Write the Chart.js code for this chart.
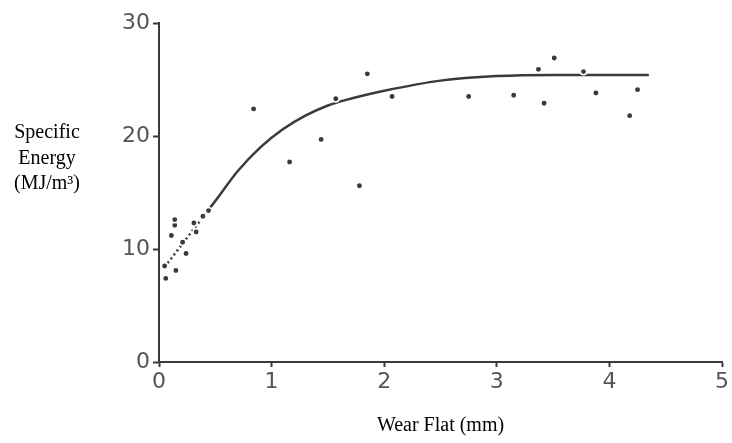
<!DOCTYPE html>
<html>
<head>
<meta charset="utf-8">
<script src="https://cdn.jsdelivr.net/npm/chart.js@4"></script>
<style>
    html, body { margin: 0; padding: 0; background: #fff; }
    #wrap { position: relative; width: 732px; height: 443px; }
</style>
</head>
<body>
<div id="wrap"><canvas id="energyChart" width="732" height="443"></canvas></div>
<script>
// Measured points: wear flat (mm) vs specific energy (MJ/m3)
const wearFlat = [0.06, 0.05, 0.15, 0.11, 0.14, 0.14, 0.24, 0.21, 0.31, 0.33, 0.39, 0.44,
    0.84, 1.16, 1.44, 1.57, 1.78, 1.85, 2.07, 2.75, 3.15, 3.37, 3.42, 3.51, 3.77, 3.84, 3.88, 4.18, 4.25];
const energy = [7.4, 8.5, 8.1, 11.2, 12.1, 12.6, 9.6, 10.6, 12.3, 11.5, 12.9, 13.4,
    22.4, 17.7, 19.7, 23.3, 15.6, 25.5, 23.5, 23.5, 23.6, 25.9, 22.9, 26.9, 25.7, 30.9, 23.8, 21.8, 24.1];

// Hand-fitted trend curve
const curveX = [0.05, 0.15, 0.25, 0.35, 0.45, 0.5, 0.7, 0.9, 1.1, 1.3, 1.5, 1.7, 2.0, 2.5, 3.0, 3.5, 4.0, 4.35];
const curveY = [8.4, 9.7, 11.0, 12.3, 13.6, 14.25, 16.9, 19.0, 20.6, 21.8, 22.7, 23.3, 24.0, 24.9, 25.3, 25.4, 25.4, 25.4];

const xTicks = [0, 1, 2, 3, 4, 5];
const yTicks = [0, 10, 20, 30];
const yTitle = ['Specific', 'Energy', '(MJ/m\u00B3)'];
const xTitle = 'Wear Flat (mm)';

const ink = '#3a3a3a';

// y title sits horizontally left of the axis
const sideTitle = {
    id: 'sideTitle',
    afterDraw(chart) {
        const ctx = chart.ctx;
        ctx.save();
        ctx.fillStyle = '#000';
        ctx.font = '20px "Liberation Serif", "Times New Roman", serif';
        ctx.textAlign = 'center';
        ctx.textBaseline = 'alphabetic';
        yTitle.forEach((line, i) => ctx.fillText(line, 47, 138 + i * 25.5));
        ctx.restore();
    }
};

const ctx = document.getElementById('energyChart').getContext('2d');
const energyChart = new Chart(ctx, {
    type: 'scatter',
    data: {
        datasets: [{
            label: 'Measured',
            data: wearFlat.map((x, i) => ({ x: x, y: energy[i] })),
            backgroundColor: ink,
            borderColor: '#fff',
            borderWidth: 1.5,
            pointRadius: 3.2,
            clip: false
        }, {
            label: 'Trend',
            type: 'line',
            data: curveX.map((x, i) => ({ x: x, y: curveY[i] })),
            borderColor: ink,
            borderWidth: 2.5,
            pointRadius: 0,
            cubicInterpolationMode: 'monotone',
            fill: false,
            segment: {
                borderDash: c => c.p0.parsed.x < 0.45 ? [2, 3] : undefined
            }
        }]
    },
    options: {
        responsive: false,
        animation: false,
        layout: { padding: { left: 0, right: 10, top: 23, bottom: 0 } },
        plugins: {
            legend: { display: false },
            tooltip: { enabled: false }
        },
        scales: {
            x: {
                type: 'linear',
                min: 0,
                max: 5,
                afterBuildTicks: s => { s.ticks = xTicks.map(v => ({ value: v })); },
                afterFit: s => { s.height = 81; },
                grid: { drawOnChartArea: false, tickLength: 5, color: ink, tickWidth: 2 },
                border: { display: true, color: ink, width: 2 },
                ticks: {
                    padding: 2,
                    color: '#555',
                    font: { family: 'DejaVu Sans', size: 22 }
                },
                title: {
                    display: true,
                    text: xTitle,
                    color: '#000',
                    font: { family: '"Liberation Serif", serif', size: 20 },
                    padding: { top: 0, bottom: 5 }
                }
            },
            y: {
                type: 'linear',
                min: 0,
                max: 30,
                afterBuildTicks: s => { s.ticks = yTicks.map(v => ({ value: v })); },
                afterFit: s => { s.width = 159; },
                grid: { drawOnChartArea: false, tickLength: 6, color: ink, tickWidth: 2 },
                border: { display: true, color: ink, width: 2 },
                ticks: {
                    padding: 3,
                    color: '#555',
                    font: { family: 'DejaVu Sans', size: 22 }
                }
            }
        }
    },
    plugins: [sideTitle]
});
</script>
</body>
</html>
